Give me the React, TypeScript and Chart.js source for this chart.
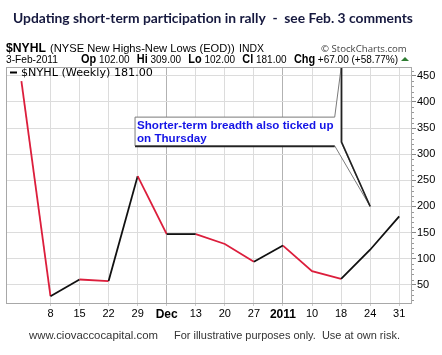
import React, { useEffect, useRef } from 'react';
import { Chart, registerables } from 'chart.js';

Chart.register(...registerables);

// ---- data ----
const xLabels = ['', '8', '15', '22', '29', 'Dec', '13', '20', '27', '2011', '10', '18', '24', '31'];
const nyhlValues = [440, 28, 60, 57, 258, 147, 147, 128, 94, 125, 76, 61, 117, 181];
const yTickValues = [50, 100, 150, 200, 250, 300, 350, 400, 450];
const boldLabelIdx = [5, 9];
const yMin = 15;
const yMax = 467;
const xMin = -0.53;
const xMax = 13.44;

const titleText = 'Updating short-term participation in rally  -  see Feb. 3 comments';
const symbolText = '$NYHL';
const nameText = '(NYSE New Highs-New Lows (EOD))';
const exchText = 'INDX';
const creditText = '\u00A9 StockCharts.com';
const dateText = '3-Feb-2011';
const quoteRuns: [string, string][] = [
  ['Op', '102.00'],
  ['Hi', '309.00'],
  ['Lo', '102.00'],
  ['Cl', '181.00'],
  ['Chg', '+67.00 (+58.77%)'],
];
const legendText = '$NYHL (Weekly) 181.00';
const footerLeft = 'www.ciovaccocapital.com';
const footerRight = 'For illustrative purposes only.  Use at own risk.';
const calloutLines = ['Shorter-term breadth also ticked up', 'on Thursday'];
const calloutBox = { x0: 3.91, x1: 10.78, yTop: 371, yBottom: 316 };
const calloutTips = [
  { x: 11, y: 467 },
  { x: 11, y: 323 },
  { x: 12, y: 200 },
];

const RED = '#dc1e3c';
const BLACK = '#111111';
const SANS = "'Liberation Sans', Arial, sans-serif";

function fitFont(ctx: CanvasRenderingContext2D, text: string, weight: string, family: string, target: number) {
  ctx.font = `${weight} 20px ${family}`;
  const w = ctx.measureText(text).width;
  const size = (20 * target) / w;
  ctx.font = `${weight} ${size.toFixed(2)}px ${family}`;
  return size;
}

const overlayPlugin = {
  id: 'overlay',
  afterDraw(chart: any) {
    const ctx: CanvasRenderingContext2D = chart.ctx;
    const area = chart.chartArea;
    const xs = chart.scales.x;
    const ys = chart.scales.y;
    ctx.save();

    // plot border
    ctx.strokeStyle = '#a8a8a8';
    ctx.lineWidth = 1;
    ctx.strokeRect(Math.round(area.left) + 0.5, Math.round(area.top) + 0.5, Math.round(area.right - area.left) - 1, Math.round(area.bottom - area.top));

    // minor ticks on right axis
    ctx.strokeStyle = '#999';
    ctx.beginPath();
    for (let v = 20; v <= 460; v += 10) {
      if (v % 50 === 0) continue;
      const y = Math.round(ys.getPixelForValue(v)) + 0.5;
      ctx.moveTo(area.right, y);
      ctx.lineTo(area.right + 2, y);
    }
    ctx.stroke();

    // callout
    const bx0 = xs.getPixelForValue(calloutBox.x0);
    const bx1 = xs.getPixelForValue(calloutBox.x1);
    const byT = ys.getPixelForValue(calloutBox.yTop);
    const byB = ys.getPixelForValue(calloutBox.yBottom);
    const t = calloutTips.map((p) => ({ x: xs.getPixelForValue(p.x), y: Math.max(ys.getPixelForValue(p.y), area.top + 1) }));
    ctx.beginPath();
    ctx.moveTo(bx0, byT);
    ctx.lineTo(bx1, byT);
    ctx.lineTo(t[0].x, t[0].y);
    ctx.lineTo(t[1].x, t[1].y);
    ctx.lineTo(t[2].x, t[2].y);
    ctx.lineTo(bx1, byB);
    ctx.lineTo(bx0, byB);
    ctx.closePath();
    ctx.fillStyle = '#ffffff';
    ctx.fill();
    ctx.strokeStyle = '#7a7a7a';
    ctx.lineWidth = 1;
    ctx.stroke();
    // dark shadowed edges
    ctx.strokeStyle = '#222';
    ctx.lineWidth = 1.6;
    ctx.beginPath();
    ctx.moveTo(t[0].x + 0.5, t[0].y);
    ctx.lineTo(t[1].x + 0.5, t[1].y);
    ctx.lineTo(t[2].x, t[2].y);
    ctx.stroke();
    ctx.beginPath();
    ctx.moveTo(bx0, byB + 0.5);
    ctx.lineTo(bx1, byB + 0.5);
    ctx.stroke();
    // callout text
    ctx.fillStyle = '#1414e6';
    ctx.textBaseline = 'alphabetic';
    ctx.textAlign = 'left';
    fitFont(ctx, calloutLines[0], 'bold', SANS, bx1 - bx0 - 3);
    ctx.fillText(calloutLines[0], bx0 + 2, byT + 11.5);
    ctx.fillText(calloutLines[1], bx0 + 2, byT + 25);

    // legend
    ctx.strokeStyle = '#000';
    ctx.lineWidth = 2;
    ctx.beginPath();
    ctx.moveTo(area.left + 4, area.top + 5.5);
    ctx.lineTo(area.left + 11, area.top + 5.5);
    ctx.stroke();
    ctx.fillStyle = '#000';
    fitFont(ctx, legendText, 'normal', "'DejaVu Sans', Verdana, sans-serif", 132);
    ctx.fillText(legendText, area.left + 15, area.top + 9);

    // title
    ctx.fillStyle = '#16193f';
    fitFont(ctx, titleText, 'bold', "Lato, 'Open Sans', sans-serif", 400);
    ctx.fillText(titleText, 13, 23);

    // header line 1
    ctx.fillStyle = '#000';
    fitFont(ctx, symbolText, 'bold', "'Liberation Sans Narrow', 'Arial Narrow', " + SANS, 40);
    ctx.fillText(symbolText, 6, 52);
    fitFont(ctx, nameText, 'normal', SANS, 185);
    ctx.fillText(nameText, 50, 52);
    fitFont(ctx, exchText, 'normal', SANS, 25);
    ctx.fillText(exchText, 239, 52);
    ctx.fillStyle = '#444';
    fitFont(ctx, creditText, 'normal', "'Open Sans', " + SANS, 86);
    ctx.fillText(creditText, 321, 52);

    // header line 2
    ctx.fillStyle = '#000';
    fitFont(ctx, dateText, 'normal', SANS, 52);
    ctx.fillText(dateText, 6, 63);
    const lblFont = `bold 12px ${SANS}`;
    const valFont = `normal 11px ${SANS}`;
    let total = 0;
    const pieces: { text: string; font: string; x: number }[] = [];
    quoteRuns.forEach(([l, v], i) => {
      if (i > 0) total += 8;
      ctx.font = lblFont;
      pieces.push({ text: l, font: lblFont, x: total });
      total += ctx.measureText(l).width + 3;
      ctx.font = valFont;
      pieces.push({ text: v, font: valFont, x: total });
      total += ctx.measureText(v).width;
    });
    const startX = 81;
    const targetW = 317;
    const k = targetW / total;
    ctx.save();
    ctx.translate(startX, 63);
    ctx.scale(k, 1);
    pieces.forEach((p) => {
      ctx.font = p.font;
      ctx.fillText(p.text, p.x, 0);
    });
    ctx.restore();
    // green triangle
    ctx.fillStyle = '#2e7d32';
    ctx.beginPath();
    ctx.moveTo(401, 61);
    ctx.lineTo(409, 61);
    ctx.lineTo(405, 57);
    ctx.closePath();
    ctx.fill();

    // footer
    ctx.fillStyle = '#333';
    fitFont(ctx, footerLeft, 'normal', SANS, 129);
    ctx.fillText(footerLeft, 29, 339);
    fitFont(ctx, footerRight, 'normal', SANS, 226);
    ctx.fillText(footerRight, 174, 339);

    ctx.restore();
  },
};

export default function App() {
  const canvasRef = useRef<HTMLCanvasElement | null>(null);

  useEffect(() => {
    const canvas = canvasRef.current;
    if (!canvas) return;
    const points = nyhlValues.map((v, i) => ({ x: i, y: v }));
    const chart = new Chart(canvas, {
      type: 'line',
      data: {
        datasets: [
          {
            label: '$NYHL',
            data: points,
            borderWidth: 1.8,
            pointRadius: 0,
            tension: 0,
            borderColor: BLACK,
            segment: {
              borderColor: (c: any) => (c.p1.parsed.y < c.p0.parsed.y ? RED : BLACK),
            },
          },
        ],
      },
      options: {
        responsive: false,
        animation: false,
        devicePixelRatio: 1,
        layout: { padding: { left: 6, top: 67, right: 0, bottom: 32 } },
        plugins: {
          legend: { display: false },
          tooltip: { enabled: false },
          title: { display: false },
        },
        scales: {
          x: {
            type: 'linear',
            min: xMin,
            max: xMax,
            afterBuildTicks: (s: any) => {
              s.ticks = xLabels.map((_, i) => ({ value: i })).slice(1);
            },
            afterFit: (s: any) => {
              s.height = 20;
            },
            border: { display: false },
            grid: {
              color: (c: any) => (c.tick && boldLabelIdx.includes(c.tick.value) ? '#b2b2b2' : '#dcdcdc'),
              tickColor: '#cccccc',
              tickLength: 3,
            },
            ticks: {
              autoSkip: false,
              maxRotation: 0,
              padding: 1,
              color: '#000',
              font: (c: any) =>
                c.tick && boldLabelIdx.includes(c.tick.value)
                  ? { family: SANS, size: 12, weight: 'bold' }
                  : { family: SANS, size: 11, weight: 'normal' },
              callback: (v: any) => xLabels[v as number] ?? '',
            },
          },
          y: {
            type: 'linear',
            position: 'right',
            min: yMin,
            max: yMax,
            afterBuildTicks: (s: any) => {
              s.ticks = yTickValues.map((v) => ({ value: v }));
            },
            afterFit: (s: any) => {
              s.width = 30;
            },
            border: { display: false },
            grid: {
              color: '#dcdcdc',
              tickColor: '#888',
              tickLength: 4,
            },
            ticks: {
              padding: 1,
              color: '#000',
              font: { family: SANS, size: 11 },
            },
          },
        },
      },
      plugins: [overlayPlugin],
    } as any);
    return () => chart.destroy();
  }, []);

  return (
    <div style={{ position: 'fixed', left: 0, top: 0, width: 442, height: 355, background: '#fff' }}>
      <canvas ref={canvasRef} width={442} height={355} style={{ display: 'block', width: 442, height: 355 }} />
    </div>
  );
}
